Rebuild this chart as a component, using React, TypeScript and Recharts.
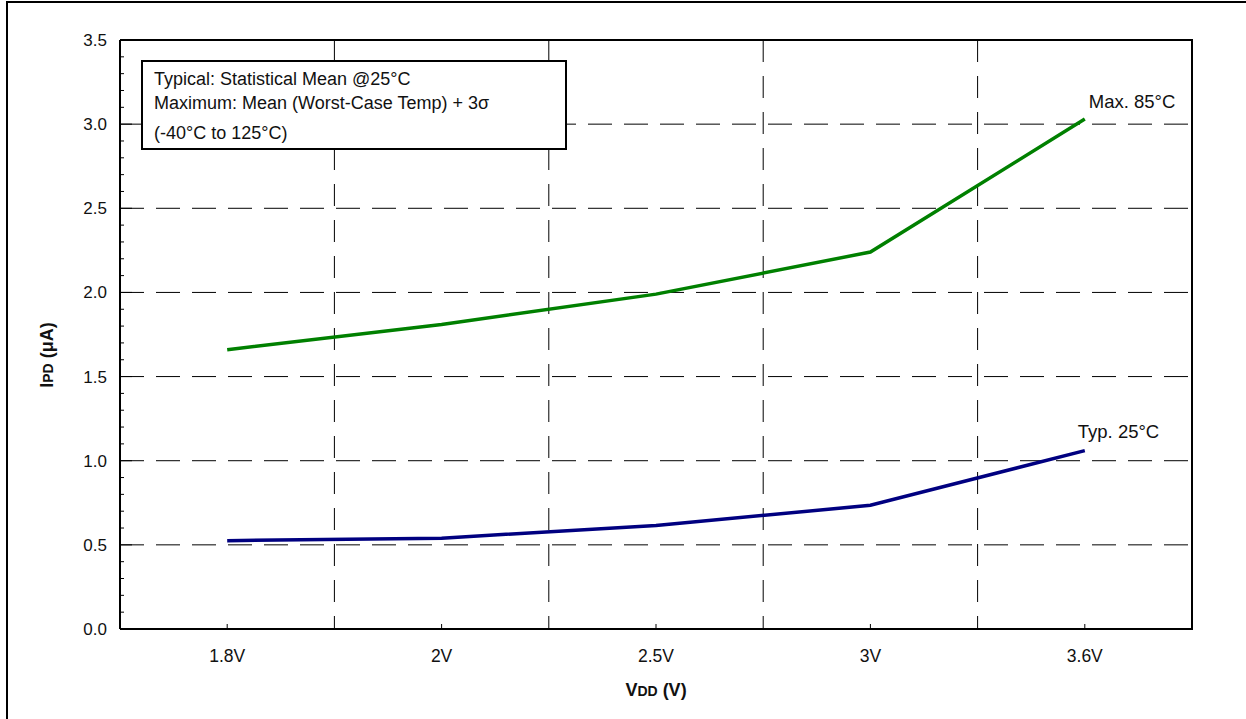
import React from 'react';
import { LineChart, Line, XAxis, YAxis, ReferenceLine, LabelList, Label, CartesianGrid } from 'recharts';

const voltages = ['1.8V', '2V', '2.5V', '3V', '3.6V'];
const max85 = [1.66, 1.81, 1.99, 2.24, 3.03];
const typ25 = [0.525, 0.54, 0.615, 0.735, 1.06];
const yMajorTicks = [0, 0.5, 1.0, 1.5, 2.0, 2.5, 3.0, 3.5];
const legendLines = [
    'Typical: Statistical Mean @25°C',
    'Maximum: Mean (Worst-Case Temp) + 3σ',
    '(-40°C to 125°C)',
];

const data = voltages.map((v, i) => ({ v, max: max85[i], typ: typ25[i] }));

// minor ticks: 4 between each pair of majors
const yTicks: number[] = [];
yMajorTicks.forEach((t, i) => {
    yTicks.push(t);
    const next = yMajorTicks[i + 1];
    if (next !== undefined) {
        for (let k = 1; k < 5; k++) yTicks.push(+(t + ((next - t) * k) / 5).toFixed(2));
    }
});

const FONT = '"Liberation Sans", Arial, sans-serif';
const Y_MARGIN = 13;
const X_MARGIN = 18;
const W = 1246;
const H = 719;
const PLOT_LEFT = 120;
const PLOT_RIGHT = 1192;
const PLOT_TOP = 40;
const PLOT_BOTTOM = 629;
const BAND = (PLOT_RIGHT - PLOT_LEFT) / voltages.length;

const YTick = (props: any) => {
    const { x, y, payload } = props;
    const isMajor = yMajorTicks.some(t => Math.abs(t - payload.value) < 1e-6);
    const ax = x + Y_MARGIN;
    return (
        <g>
            <line x1={ax} x2={ax + (isMajor ? 12 : 4)} y1={y} y2={y} stroke="#000" strokeWidth={1} />
            {isMajor && (
                <text x={x} y={y} dy={6} textAnchor="end" fontSize={17} fontFamily={FONT} fill="#111">
                    {payload.value.toFixed(1)}
                </text>
            )}
        </g>
    );
};

const XTick = (props: any) => {
    const { x, y, payload } = props;
    const ay = y - X_MARGIN;
    return (
        <g>
            <line x1={x} x2={x} y1={ay} y2={ay - 5} stroke="#000" strokeWidth={1} />
            <text x={x} y={y} dy={15} textAnchor="middle" fontSize={17.5} fontFamily={FONT} fill="#111">
                {payload.value}
            </text>
        </g>
    );
};

const endLabel = (text: string, dx: number, dy: number) => (props: any) => {
    const { x, y, index } = props;
    if (index !== voltages.length - 1) return null;
    return (
        <text x={x + dx} y={y + dy} fontSize={18.5} fontFamily={FONT} fill="#111">
            {text}
        </text>
    );
};

// dashed verticals sit on the category boundaries, not on the ticks
const bandEdges = ({ offset }: any) =>
    voltages.slice(1).map((_, i) => offset.left + (offset.width * (i + 1)) / voltages.length);

export default function App() {
    const midY = 355;
    return (
        <div style={{ position: 'absolute', left: 0, top: 0, width: W, height: H, background: '#fff', fontFamily: FONT }}>
            <div style={{ position: 'absolute', left: 6, top: 1, width: W, height: H, borderLeft: '2px solid #000', borderTop: '2px solid #000' }} />
            <LineChart
                width={W}
                height={H}
                data={data}
                margin={{ top: PLOT_TOP, right: W - PLOT_RIGHT, left: 0, bottom: 0 }}
            >
                <CartesianGrid
                    horizontal={false}
                    verticalCoordinatesGenerator={bandEdges}
                    stroke="#000"
                    strokeWidth={1}
                    strokeDasharray="22 14"
                />
                <XAxis
                    dataKey="v"
                    height={H - PLOT_BOTTOM}
                    padding={{ left: BAND / 2, right: BAND / 2 }}
                    axisLine={{ stroke: '#000', strokeWidth: 2 }}
                    tickLine={false}
                    tickSize={0}
                    tickMargin={X_MARGIN}
                    tick={<XTick />}
                    interval={0}
                >
                    <Label
                        content={() => (
                            <text x={PLOT_LEFT + (PLOT_RIGHT - PLOT_LEFT) / 2} y={696} textAnchor="middle" fontFamily={FONT} fontWeight="bold" fontSize={18} fill="#111">
                                V<tspan fontSize={14}>DD</tspan> (V)
                            </text>
                        )}
                    />
                </XAxis>
                <YAxis
                    width={PLOT_LEFT}
                    domain={[0, 3.5]}
                    ticks={yTicks}
                    interval={0}
                    axisLine={{ stroke: '#000', strokeWidth: 2 }}
                    tickLine={false}
                    tickSize={0}
                    tickMargin={Y_MARGIN}
                    tick={<YTick />}
                >
                    <Label
                        content={() => (
                            <text
                                x={53}
                                y={midY}
                                transform={`rotate(-90 53 ${midY})`}
                                textAnchor="middle"
                                fontFamily={FONT}
                                fontWeight="bold"
                                fontSize={18}
                                fill="#111"
                            >
                                I<tspan fontSize={14}>PD</tspan> (μA)
                            </text>
                        )}
                    />
                </YAxis>

                {yMajorTicks.filter(t => t > 0 && t < 3.5).map(t => (
                    <ReferenceLine key={'h' + t} y={t} stroke="#000" strokeWidth={1} strokeDasharray="24 12" />
                ))}

                <Line type="linear" dataKey="max" stroke="#008000" strokeWidth={3.5} dot={false} isAnimationActive={false}>
                    <LabelList dataKey="max" content={endLabel('Max. 85°C', 4, -11)} />
                </Line>
                <Line type="linear" dataKey="typ" stroke="#000080" strokeWidth={3.5} dot={false} isAnimationActive={false}>
                    <LabelList dataKey="typ" content={endLabel('Typ. 25°C', -7, -13)} />
                </Line>
            </LineChart>
            {/* top and right edges of the plot frame */}
            <div
                style={{
                    position: 'absolute',
                    left: PLOT_LEFT,
                    top: PLOT_TOP - 1,
                    width: PLOT_RIGHT - PLOT_LEFT - 1,
                    height: PLOT_BOTTOM - PLOT_TOP,
                    borderTop: '2px solid #000',
                    borderRight: '2px solid #000',
                    pointerEvents: 'none',
                }}
            />
            <div
                style={{
                    position: 'absolute',
                    left: 141,
                    top: 60,
                    width: 422,
                    height: 86,
                    border: '2px solid #000',
                    background: '#fff',
                    fontSize: 18,
                    color: '#111',
                    lineHeight: '24px',
                }}
            >
                <div style={{ position: 'absolute', left: 11, top: 5, whiteSpace: 'nowrap' }}>
                    {legendLines.map((l, i) => (
                        <div key={l} style={{ marginTop: i === 2 ? 6 : 0 }}>{l}</div>
                    ))}
                </div>
            </div>
        </div>
    );
}
